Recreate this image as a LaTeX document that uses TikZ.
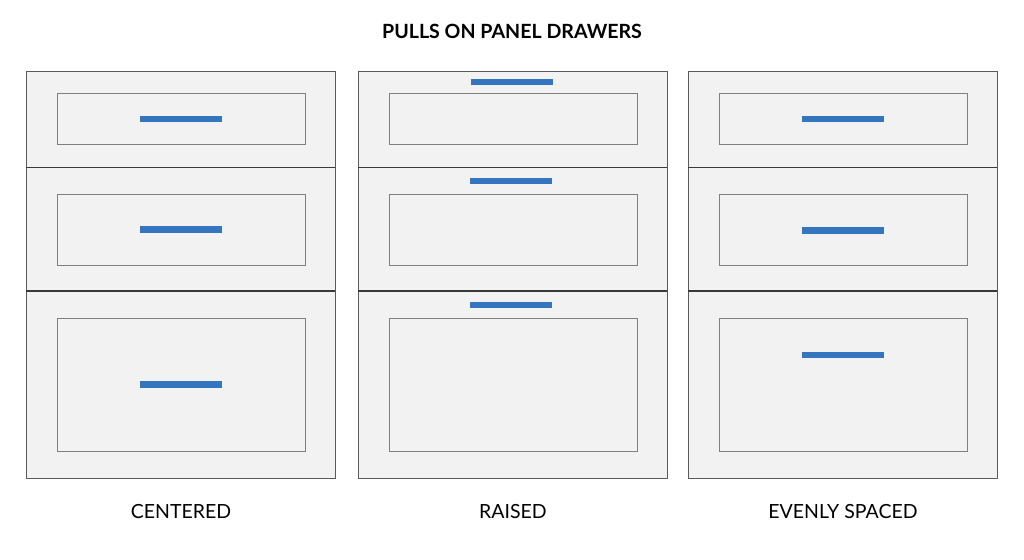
\documentclass[tikz,border=0pt]{standalone}
\usepackage{fontspec}
\setmainfont{Lato}
\definecolor{panelfill}{HTML}{F2F2F2}
\definecolor{outerline}{HTML}{5A5A5A}
\definecolor{innerline}{HTML}{7F7F7F}
\definecolor{dividerline}{HTML}{3A3A3A}
\definecolor{pullblue}{HTML}{3375BE}
\tikzset{
  cabinet/.style={draw=outerline, fill=panelfill, line width=0.9pt},
  divider/.style={draw=dividerline, line width=1.2pt},
  panel/.style={draw=innerline, line width=0.9pt},
  pull/.style={fill=pullblue, draw=none},
  caption/.style={font=\fontsize{19.5}{23}\selectfont, text=black, inner sep=0pt},
  heading/.style={font=\fontsize{19.6}{23}\selectfont\bfseries, text=black, inner sep=0pt}
}
\newcommand{\pullbar}[2]{\fill[pull] (#1-41,#2-3.2) rectangle (#1+41,#2+3.2);}
\begin{document}
\begin{tikzpicture}[x=1pt,y=-1pt]
\useasboundingbox (0,0) rectangle (1024,559);
\fill[white] (0,0) rectangle (1024,559);
\node[heading] (title) at (512,31) {PULLS ON PANEL DRAWERS};
% columns
\foreach \L/\name in {26/c1,358/c2,688/c3}{
  \pgfmathsetmacro{\R}{\L+309}
  \draw[cabinet] (\L,71) rectangle (\R,478);
  \draw[divider] (\L,167.5) -- (\R,167.5);
  \draw[divider] (\L,291) -- (\R,291);
  \pgfmathsetmacro{\il}{\L+31}
  \pgfmathsetmacro{\ir}{\R-30}
  \draw[panel] (\il,93) rectangle (\ir,144);
  \draw[panel] (\il,194) rectangle (\ir,265);
  \draw[panel] (\il,318) rectangle (\ir,451);
}
% centered pulls
\pullbar{181}{119}
\pullbar{181}{229.5}
\pullbar{181}{384.5}
% raised pulls
\pullbar{512}{82}
\pullbar{511}{181}
\pullbar{511}{305}
% evenly spaced pulls
\pullbar{843}{119}
\pullbar{843}{230.5}
\pullbar{843}{355}
\node[caption] (lab1) at (181,512) {CENTERED};
\node[caption] (lab2) at (513,512) {RAISED};
\node[caption] (lab3) at (843,512) {EVENLY SPACED};
\end{tikzpicture}
\end{document}
